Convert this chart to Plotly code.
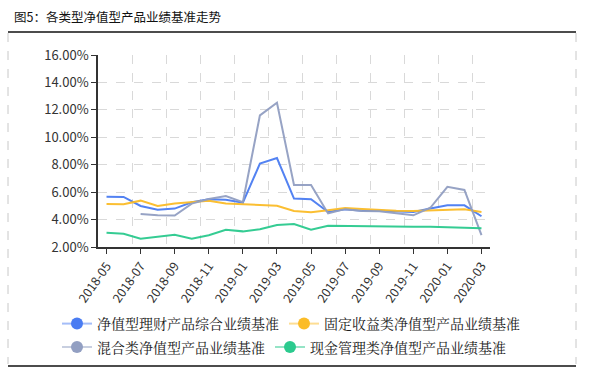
import plotly.graph_objects as go

months = ["2018-05","2018-06","2018-07","2018-08","2018-09","2018-10","2018-11","2018-12",
          "2019-01","2019-02","2019-03","2019-04","2019-05","2019-06","2019-07","2019-08",
          "2019-09","2019-10","2019-11","2019-12","2020-01","2020-02","2020-03"]

composite = [5.67,5.65,4.99,4.72,4.80,5.26,5.48,5.45,5.23,8.08,8.49,5.53,5.48,4.55,4.75,4.65,
             4.65,4.58,4.55,4.80,5.04,5.04,4.24]
fixed_income = [5.14,5.12,5.38,4.99,5.18,5.30,5.38,5.18,5.12,5.06,5.01,4.63,4.53,4.68,4.84,4.77,
                4.70,4.65,4.62,4.68,4.70,4.75,4.56]
mixed = [None,None,4.41,4.31,4.29,5.16,5.50,5.72,5.27,11.6,12.52,6.52,6.52,4.45,4.76,4.62,
         4.60,4.45,4.31,4.86,6.39,6.16,2.86]
cash = [3.03,2.96,2.60,2.74,2.90,2.60,2.86,3.26,3.14,3.29,3.61,3.68,3.26,3.55,3.53,3.50,
        3.48,3.48,3.48,3.48,3.46,3.44,3.37]

names = ["净值型理财产品综合业绩基准", "固定收益类净值型产品业绩基准",
         "混合类净值型产品业绩基准", "现金管理类净值型产品业绩基准"]
colors = ["#4a7cf2", "#fbbc28", "#929fc2", "#2bca8e"]
legend_line = ["rgba(74,124,242,0.5)", "rgba(251,188,40,0.5)",
               "rgba(146,159,194,0.5)", "rgba(43,202,142,0.5)"]
legend_ref = ["legend", "legend", "legend2", "legend2"]
series = [composite, fixed_income, mixed, cash]

xs = list(range(len(months)))
tick_idx = xs[::2]
tick_txt = [months[i] for i in tick_idx]

fig = go.Figure()
for s, c in zip(series, colors):
    fig.add_trace(go.Scatter(x=xs, y=s, mode="lines", line=dict(color=c, width=2),
                             opacity=0.95, showlegend=False, hoverinfo="skip"))
for n, c, lc, lg in zip(names, colors, legend_line, legend_ref):
    fig.add_trace(go.Scatter(x=[None], y=[None], mode="lines+markers", name=n,
                             line=dict(color=lc, width=2), legend=lg,
                             marker=dict(color=c, size=12)))

L, R, T, B = 98, 100, 55, 140
W, H = 590, 387
pw, ph = W - L - R, H - T - B
def px(x): return (x - L) / pw
def py(y): return (H - B - y) / ph

legfont = dict(size=14, color="#1a1a1a", family="Noto Serif CJK SC, Noto Sans CJK SC")

fig.update_layout(
    width=W, height=H,
    margin=dict(l=L, r=R, t=T, b=B),
    paper_bgcolor="white", plot_bgcolor="white",
    font=dict(family="Noto Sans CJK SC", color="#333"),
    xaxis=dict(range=[-0.5, 22.5], tickmode="array", tickvals=tick_idx, ticktext=tick_txt,
               tickangle=-55, ticks="outside", ticklen=5, tickcolor="#333", automargin=False,
               showline=True, linecolor="#333", linewidth=1.5, showgrid=False,
               zeroline=False, tickfont=dict(size=12.5, color="#333",
                                             family="Noto Sans CJK SC"),
               minor=dict(tickmode="linear", tick0=-0.5, dtick=2, showgrid=True,
                          gridcolor="#d9d9d9", griddash="dash", gridwidth=1, ticks="")),
    yaxis=dict(range=[2, 16], dtick=2, tick0=2, tickformat=".2f", ticksuffix="%",
               ticks="outside", ticklen=5, tickcolor="#333", automargin=False,
               showline=True, linecolor="#333", linewidth=1.5,
               showgrid=True, gridcolor="#d9d9d9", griddash="dash", gridwidth=1,
               zeroline=False, tickfont=dict(size=13, color="#333",
                                             family="Noto Sans CJK SC")),
    legend=dict(orientation="h", x=px(57), y=py(308), xanchor="left", yanchor="top",
                font=legfont, itemwidth=30, bgcolor="rgba(0,0,0,0)"),
    legend2=dict(orientation="h", x=px(57), y=py(331.5), xanchor="left", yanchor="top",
                 font=legfont, itemwidth=30, bgcolor="rgba(0,0,0,0)"),
    showlegend=True,
)

fig.add_annotation(text="图5：各类型净值型产品业绩基准走势", xref="paper", yref="paper",
                   x=px(12), y=py(17), xanchor="left", yanchor="middle", showarrow=False,
                   font=dict(size=12.5, color="#111", family="Noto Sans CJK SC"))

# frame
fig.add_shape(type="line", xref="paper", yref="paper", x0=px(8), x1=px(576), y0=py(32), y1=py(32),
              line=dict(color="#111", width=1.5))
fig.add_shape(type="line", xref="paper", yref="paper", x0=px(8), x1=px(576), y0=py(366), y1=py(366),
              line=dict(color="#111", width=1.5))
for xv in (8, 576):
    fig.add_shape(type="line", xref="paper", yref="paper", x0=px(xv), x1=px(xv),
                  y0=py(33), y1=py(364), line=dict(color="#c8c8c8", width=1, dash="dash"))

fig.write_html("out.html", config={"displayModeBar": False},
               post_script="document.body.style.margin='0px';")
